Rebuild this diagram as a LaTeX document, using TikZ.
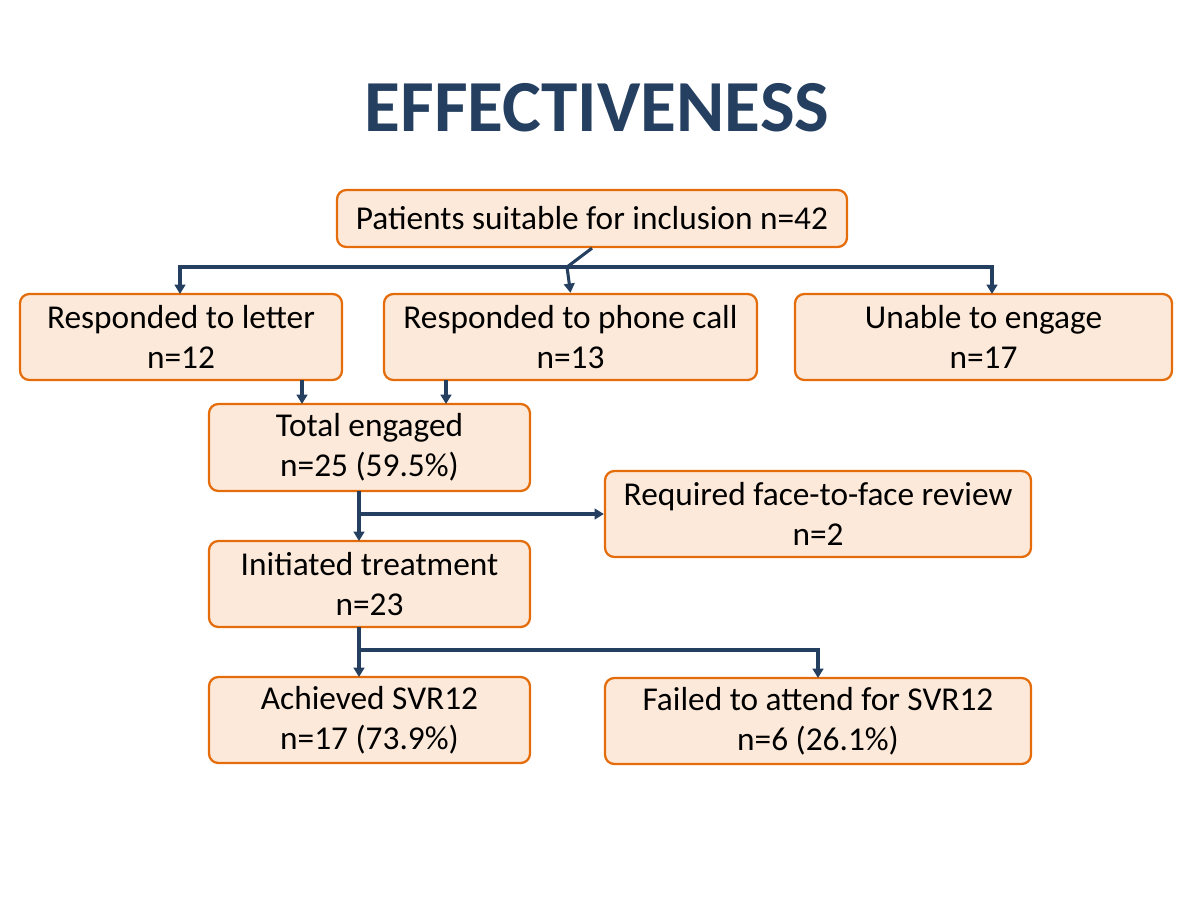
\documentclass[tikz,border=0pt]{standalone}
\usepackage{fontspec}
\setmainfont{Carlito}
\usetikzlibrary{arrows.meta}
\definecolor{navy}{HTML}{243F60}
\definecolor{boxfill}{HTML}{FDE9D9}
\definecolor{boxline}{HTML}{E46C0A}
\begin{document}
\begin{tikzpicture}[x=0.75pt,y=-0.75pt,
  box/.style={draw=boxline,fill=boxfill,line width=1.7pt,rounded corners=7pt,align=center,font=\fontsize{25}{30}\selectfont,inner sep=0pt},
  conn/.style={draw=navy,line width=2.3pt,-{Triangle[length=7pt,width=8pt]}},
  ln/.style={draw=navy,line width=2.3pt}]
\useasboundingbox (0,0) rectangle (1194,900);
\node[font=\fontsize{55}{60}\selectfont\bfseries,text=navy] (title) at (597,108) {EFFECTIVENESS};
\newcommand{\bx}[6]{\node[box,minimum width={(#4-#2)*0.75pt},minimum height={(#5-#3)*0.75pt}] (#1) at ({(#2+#4)/2},{(#3+#5)/2}) {#6};}
\bx{pat}{337}{190}{847}{247}{Patients suitable for inclusion n=42}
\bx{let}{20}{294}{342}{380}{Responded to letter\\n=12}
\bx{pho}{384}{294}{757}{380}{Responded to phone call\\n=13}
\bx{una}{795}{294}{1172}{380}{Unable to engage\\n=17}
\bx{tot}{209}{404}{530}{491}{Total engaged\\n=25 (59.5\%)}
\bx{f2f}{605}{471}{1031}{557}{Required face-to-face review\\n=2}
\bx{ini}{209}{541}{530}{627}{Initiated treatment\\n=23}
\bx{ach}{209}{677}{530}{763}{Achieved SVR12\\n=17 (73.9\%)}
\bx{fai}{605}{678}{1031}{764}{Failed to attend for SVR12\\n=6 (26.1\%)}
\coordinate (j1) at (567,267);
\coordinate (j2) at (359,514);
\coordinate (j3) at (359,650);
\coordinate (a1) at (180,294); \coordinate (a3) at (992,294);
\coordinate (l1) at (302,380); \coordinate (l2) at (302,404);
\coordinate (p1) at (446,380); \coordinate (p2) at (446,404);
\coordinate (t1) at (359,491); \coordinate (t2) at (359,541);
\coordinate (i1) at (359,627); \coordinate (i2) at (359,677);
\coordinate (f1) at (818,678);
\draw[ln] (pat.south) -- (j1);
\draw[conn] (j1) -| (a1);
\draw[conn] (j1) -- (pho.north);
\draw[conn] (j1) -| (a3);
\draw[conn] (l1) -- (l2);
\draw[conn] (p1) -- (p2);
\draw[conn] (t1) -- (t2);
\draw[conn] (j2) -- (f2f.west |- j2);
\draw[conn] (i1) -- (i2);
\draw[conn] (j3) -| (f1);
\end{tikzpicture}
\end{document}
